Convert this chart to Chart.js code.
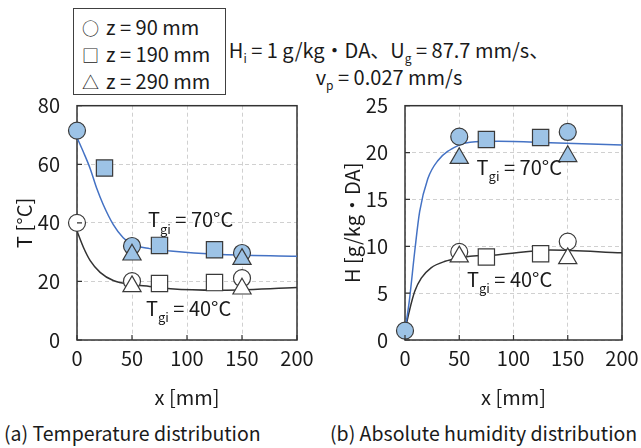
<!DOCTYPE html>
<html>
<head>
<meta charset="utf-8">
<script src="https://cdn.jsdelivr.net/npm/chart.js@4.4.1/dist/chart.umd.min.js"></script>
<style>
  html, body { margin: 0; padding: 0; background: #fff; }
  body { width: 641px; height: 448px; position: relative; overflow: hidden;
         font-family: 'Noto Sans CJK JP', 'Noto Sans', sans-serif; color: #1a1a1a; }
  .abs { position: absolute; white-space: nowrap; }
  #legendBox { left: 73px; top: 8px; width: 151px; height: 85px; border: 1px solid #404040;
               background: #fff; z-index: 2; font-size: 20px; }
  #legendBox .row { position: absolute; left: 8px; line-height: 24px; }
  #legendBox .sym { display: inline-block; width: 24px; font-size: 17px; }
  #note { left: 389px; top: 36px; transform: translateX(-50%); text-align: center;
          font-size: 20px; line-height: 27px; }
  sub { font-size: 12px; vertical-align: -5px; line-height: 0; }
  .cap { font-size: 19.5px; line-height: 24px; top: 421px; }
  #chartA { left: 0; top: 93px; width: 320px; height: 322px; }
  #chartB { left: 320px; top: 93px; width: 321px; height: 322px; }
</style>
</head>
<body>
<div id="legendBox" class="abs">
  <div class="row" style="top:6px"><span class="sym">○</span>z = 90 mm</div>
  <div class="row" style="top:33px"><span class="sym">□</span>z = 190 mm</div>
  <div class="row" style="top:60px"><span class="sym">△</span>z = 290 mm</div>
</div>
<div id="note" class="abs">H<sub>i</sub> = 1 g/kg・DA、U<sub>g</sub> = 87.7 mm/s、<br>v<sub>p</sub> = 0.027 mm/s</div>
<div id="chartA" class="abs"><canvas id="cA"></canvas></div>
<div id="chartB" class="abs"><canvas id="cB"></canvas></div>
<div class="abs cap" style="left:4px">(a) Temperature distribution</div>
<div class="abs cap" style="left:330px">(b) Absolute humidity distribution</div>

<script>
// axis ticks
var xTicks = [0, 50, 100, 150, 200];
var tTicks = [0, 20, 40, 60, 80];
var hTicks = [0, 5, 10, 15, 20, 25];

// (a) temperature T [°C], measured, Tgi = 70°C (filled)
var t70CircleX = [0, 50, 150];   var t70Circle = [71.5, 32.1, 29.7];
var t70SquareX = [25, 75, 125];  var t70Square = [58.7, 32.3, 30.8];
var t70TriX = [50, 150];         var t70Tri = [29.1, 27.6];
// Tgi = 40°C (open)
var t40CircleX = [0, 50, 150];   var t40Circle = [40.0, 20.1, 21.1];
var t40SquareX = [75, 125];      var t40Square = [19.3, 19.6];
var t40TriX = [50, 150];         var t40Tri = [18.3, 17.5];
// calculated curves
var t70LineX = [0, 6, 12, 18, 24, 33, 42, 50, 66, 85, 127, 200];
var t70Line  = [69.1, 64.0, 58.5, 51.7, 46.1, 39.4, 34.9, 32.7, 31.2, 30.4, 29.3, 28.6];
var t40LineX = [0, 6, 12, 21, 33, 50, 66, 85, 127, 200];
var t40Line  = [37.2, 31.5, 27.1, 23.1, 20.3, 18.9, 18.3, 17.5, 17.0, 17.9];

// (b) absolute humidity H [g/kg-DA]
var h70CircleX = [0, 50, 150];   var h70Circle = [1.0, 21.7, 22.2];
var h70SquareX = [75, 125];      var h70Square = [21.4, 21.6];
var h70TriX = [50, 150];         var h70Tri = [19.4, 19.6];
var h40CircleX = [50, 150];      var h40Circle = [9.4, 10.5];
var h40SquareX = [75, 125];      var h40Square = [8.85, 9.2];
var h40TriX = [50, 150];         var h40Tri = [8.9, 8.7];
var h70LineX = [0, 4, 9, 13.5, 21, 30, 50, 60, 86, 134, 200];
var h70Line  = [1.0, 4.2, 9.5, 13.7, 17.2, 19.1, 20.8, 21.1, 21.2, 21.05, 20.8];
var h40LineX = [0, 4, 9, 15, 24, 37, 50, 60, 86, 134, 200];
var h40Line  = [1.0, 3.1, 5.2, 6.6, 7.7, 8.4, 8.75, 8.93, 9.1, 9.6, 9.3];

var FONT = "'Noto Sans CJK JP', 'Noto Sans', sans-serif";
var INK = '#1a1a1a';
var EDGE = '#3a3a3a';
var FILL = '#9dc3e6';
var BLUE = '#4472c4';

Chart.defaults.font.family = FONT;
Chart.defaults.font.size = 20;
Chart.defaults.color = INK;

function pts(xs, ys) {
    return xs.map(function (x, i) { return { x: x, y: ys[i] }; });
}

function marker(xs, ys, style, r, filled, order) {
    return {
        data: pts(xs, ys),
        pointStyle: style,
        pointRadius: r,
        pointHoverRadius: r,
        pointBackgroundColor: filled ? FILL : '#ffffff',
        pointBorderColor: EDGE,
        pointBorderWidth: 1.2,
        showLine: false,
        clip: false,
        order: order
    };
}

function curve(xs, ys, color) {
    return {
        data: pts(xs, ys),
        showLine: true,
        borderColor: color,
        borderWidth: 1.5,
        pointRadius: 0,
        cubicInterpolationMode: 'monotone',
        order: 10
    };
}

// frame, inward tick marks and the Tgi labels
var decor = {
    id: 'decor',
    beforeDatasetsDraw: function (chart) {
        var ctx = chart.ctx, a = chart.chartArea;
        ctx.save();
        ctx.strokeStyle = '#333';
        ctx.lineWidth = 1.5;
        ctx.strokeRect(a.left, a.top, a.right - a.left, a.bottom - a.top);
        ctx.restore();
    },
    afterDatasetsDraw: function (chart, args, opts) {
        var ctx = chart.ctx, a = chart.chartArea;
        var xs = chart.scales.x, ys = chart.scales.y;
        ctx.save();
        ctx.strokeStyle = '#333';
        ctx.lineWidth = 1.2;
        ctx.beginPath();
        xs.ticks.forEach(function (t) {
            var p = xs.getPixelForValue(t.value);
            ctx.moveTo(p, a.bottom); ctx.lineTo(p, a.bottom - 5);
        });
        ys.ticks.forEach(function (t) {
            var p = ys.getPixelForValue(t.value);
            ctx.moveTo(a.left, p); ctx.lineTo(a.left + 5, p);
        });
        ctx.stroke();

        ctx.fillStyle = INK;
        ctx.textAlign = 'left';
        ctx.textBaseline = 'middle';
        (opts.labels || []).forEach(function (l) {
            var px = xs.getPixelForValue(l.x), py = ys.getPixelForValue(l.y);
            ctx.font = '20px ' + FONT;
            ctx.fillText('T', px, py);
            var w1 = ctx.measureText('T').width;
            ctx.font = '13px ' + FONT;
            ctx.fillText('gi', px + w1, py + 9);
            var w2 = ctx.measureText('gi').width;
            ctx.font = '20px ' + FONT;
            ctx.fillText(l.text, px + w1 + w2, py);
        });
        ctx.restore();
    }
};

function makeChart(id, datasets, yTicks, yMax, yTitle, yWidth, yTitlePad, rightPad, labels) {
    return new Chart(document.getElementById(id), {
        type: 'scatter',
        data: { datasets: datasets },
        options: {
            responsive: true,
            maintainAspectRatio: false,
            animation: false,
            layout: { padding: { top: 10, right: rightPad, left: 0, bottom: 0 } },
            scales: {
                x: {
                    type: 'linear',
                    min: 0, max: 200,
                    afterBuildTicks: function (s) { s.ticks = xTicks.map(function (v) { return { value: v }; }); },
                    afterFit: function (s) { s.height = 75; s.paddingLeft = 0; s.paddingRight = 0; },
                    grid: { color: '#d0d0d0', lineWidth: 1, drawTicks: false },
                    border: { display: false, dash: [4, 3] },
                    ticks: { padding: 6, color: INK, font: { size: 20 } },
                    title: { display: true, text: 'x [mm]', color: INK, font: { size: 20 }, padding: { top: 0, bottom: 6 } }
                },
                y: {
                    type: 'linear',
                    min: 0, max: yMax,
                    afterBuildTicks: function (s) { s.ticks = yTicks.map(function (v) { return { value: v }; }); },
                    afterFit: function (s) { s.width = yWidth; s.paddingTop = 0; s.paddingBottom = 0; },
                    grid: { color: '#d0d0d0', lineWidth: 1, drawTicks: false },
                    border: { display: false, dash: [4, 3] },
                    ticks: { padding: 17, color: INK, font: { size: 20 } },
                    title: { display: true, text: yTitle, color: INK, font: { size: 20 }, padding: { top: yTitlePad, bottom: 0 } }
                }
            },
            plugins: {
                legend: { display: false },
                tooltip: { enabled: false },
                decor: { labels: labels }
            }
        },
        plugins: [decor]
    });
}

makeChart('cA', [
    curve(t70LineX, t70Line, BLUE),
    curve(t40LineX, t40Line, '#333333'),
    marker(t40CircleX, t40Circle, 'circle', 8.5, false, 5),
    marker(t40SquareX, t40Square, 'rect', 11.5, false, 4),
    marker(t40TriX, t40Tri, 'triangle', 10.5, false, 3),
    marker(t70CircleX, t70Circle, 'circle', 8.5, true, 5),
    marker(t70SquareX, t70Square, 'rect', 11.5, true, 4),
    marker(t70TriX, t70Tri, 'triangle', 10.5, true, 3)
], tTicks, 80, 'T [°C]', 77, 12, 23, [
    { x: 64.5, y: 41.1, text: ' = 70°C' },
    { x: 62.7, y: 10.9, text: ' = 40°C' }
]);

makeChart('cB', [
    curve(h70LineX, h70Line, BLUE),
    curve(h40LineX, h40Line, '#333333'),
    marker(h40CircleX, h40Circle, 'circle', 8.5, false, 5),
    marker(h40SquareX, h40Square, 'rect', 11.5, false, 4),
    marker(h40TriX, h40Tri, 'triangle', 10.5, false, 3),
    marker(h70CircleX, h70Circle, 'circle', 8.5, true, 5),
    marker(h70SquareX, h70Square, 'rect', 11.5, true, 4),
    marker(h70TriX, h70Tri, 'triangle', 10.5, true, 3)
], hTicks, 25, 'H [g/kg・DA]', 85, 20, 19, [
    { x: 66, y: 18.4, text: ' = 70°C' },
    { x: 57.1, y: 6.5, text: ' = 40°C' }
]);
</script>
</body>
</html>
